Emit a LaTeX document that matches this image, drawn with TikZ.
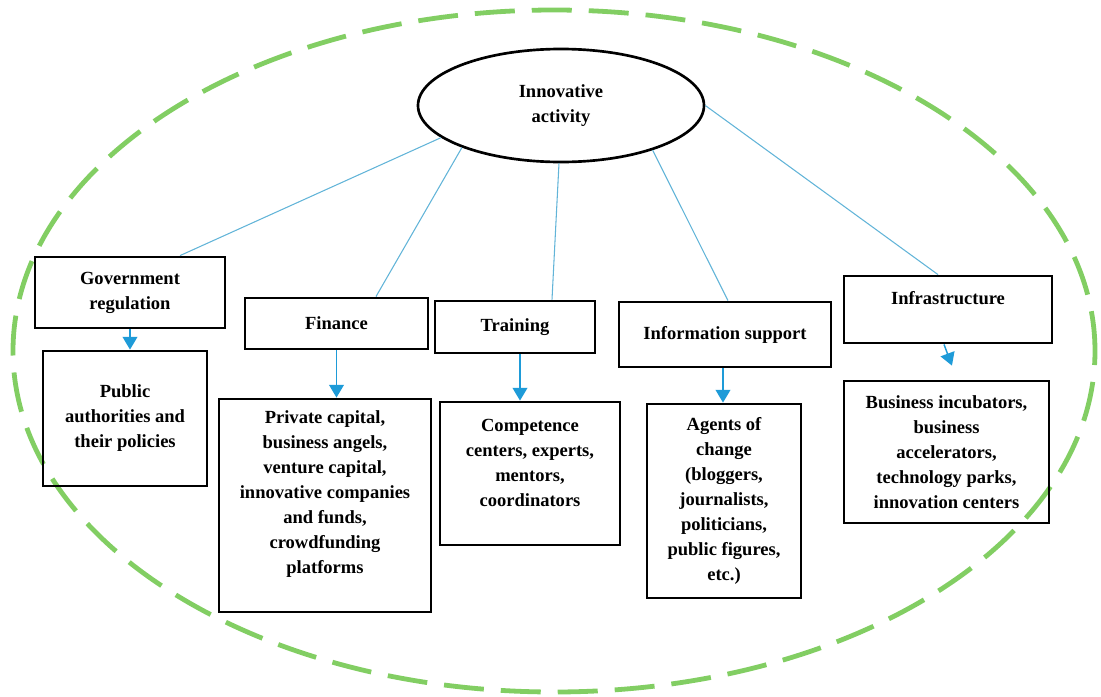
\documentclass[tikz,border=0pt]{standalone}
\usepackage{fontspec}
\setmainfont{Liberation Serif}
\usetikzlibrary{arrows.meta,shapes.geometric}
\definecolor{ringgreen}{HTML}{82CE63}
\definecolor{linkblue}{HTML}{62B4D8}
\definecolor{arrowblue}{HTML}{1E9BD8}
\begin{document}
\begin{tikzpicture}[x=0.75pt,y=-0.75pt,
  lbl/.style={font=\bfseries\fontsize{13.9}{18.75}\selectfont, align=center},
  box/.style={draw=black, line width=2.1pt, inner sep=0pt, lbl},
  txt/.style={inner sep=0pt, lbl},
  link/.style={draw=linkblue, line width=0.8pt},
  arr/.style={draw=arrowblue, line width=1.1pt, -{Triangle[width=11pt,length=9.5pt]}},
  ring/.style={draw=ringgreen, line width=3.6pt, dash pattern=on 30pt off 12.75pt}]
\useasboundingbox (0,0) rectangle (1101,697);

% outer dashed ellipse
\draw[ring] (554,351) ellipse [x radius=405.75pt, y radius=255.75pt];

% central ellipse
\node[draw=black, line width=2pt, ellipse, inner sep=0pt, minimum width=214.5pt, minimum height=84.75pt, lbl] (act) at (561,105.5) {Innovative\\activity};

% top-level boxes
\node[box, minimum width=142.5pt, minimum height=53.25pt] (gov) at (130,292.5) {Government\\regulation};
\node[box, minimum width=137.25pt, minimum height=38.25pt] (fin) at (336.5,323.5) {Finance};
\node[box, minimum width=120pt, minimum height=39pt] (train) at (515,327) {Training};
\node[box, minimum width=159pt, minimum height=48.75pt] (info) at (725,334.5) {Information support};
\node[box, minimum width=156pt, minimum height=50.25pt] (infra) at (948,309.5) {};
\node[txt] (infratxt) at (948,298) {Infrastructure};

% lower boxes
\node[box, minimum width=123pt, minimum height=101.25pt] (pub) at (125,418.5) {Public\\authorities and\\their policies};
\node[box, minimum width=159pt, minimum height=159.75pt] (priv) at (325,505.5) {};
\node[txt] (privtxt) at (325,494.5) {Private capital,\\business angels,\\venture capital,\\innovative companies\\and funds,\\crowdfunding\\platforms};
\node[box, minimum width=135pt, minimum height=107.25pt] (comp) at (530,473.5) {};
\node[txt] (comptxt) at (530,462.5) {Competence\\centers, experts,\\mentors,\\coordinators};
\node[box, minimum width=115.5pt, minimum height=145.5pt] (agents) at (724,501) {Agents of\\change\\(bloggers,\\journalists,\\politicians,\\public figures,\\etc.)};
\node[box, minimum width=153.75pt, minimum height=106.5pt] (bus) at (946.5,452) {Business incubators,\\business\\accelerators,\\technology parks,\\innovation centers};

% links from the central ellipse
\draw[link] (act.195) -- ([xshift=37.5pt]gov.north);
\draw[link] (act.203) -- ([xshift=29.6pt]fin.north);
\draw[link] (act.268) -- ([xshift=27.75pt]train.north);
\draw[link] (act.334) -- ([xshift=2.25pt]info.north);
\draw[link] (act.0) -- ([xshift=-7.5pt]infra.north);

% arrows down
\draw[arr] (gov.south) -- (gov.south |- pub.north);
\draw[arr] (fin.south) -- (fin.south |- priv.north);
\draw[arr] ([xshift=3.75pt]train.south) -- ([xshift=3.75pt]train.south |- comp.north);
\draw[arr] ([xshift=-1.5pt]info.south) -- ([xshift=-1.5pt]info.south |- agents.north);
\draw[arr] ([xshift=-3pt]infra.south) -- ([xshift=4.1pt,yshift=10.5pt]bus.north);
\end{tikzpicture}
\end{document}
